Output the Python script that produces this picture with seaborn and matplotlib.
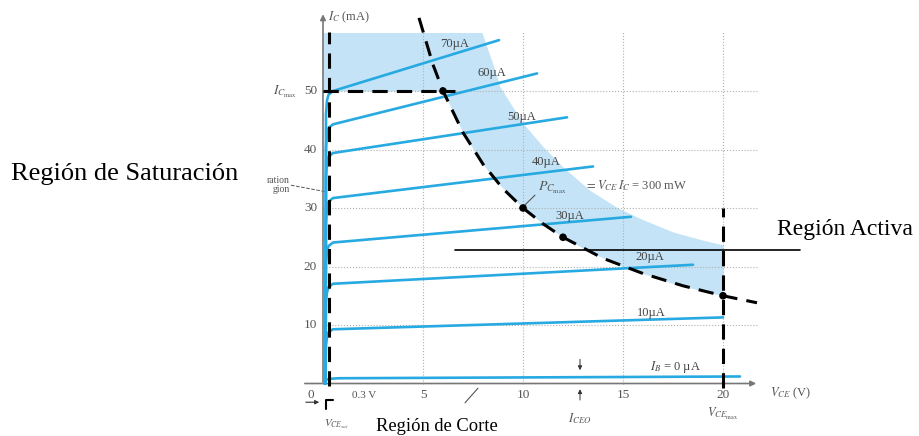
import matplotlib
matplotlib.use("Agg")
import matplotlib.pyplot as plt
from matplotlib.lines import Line2D
import pandas as pd
import seaborn as sns

# --------------------------------------
# Data
# --------------------------------------
IB_LABELS = ["70 µA", "60 µA", "50 µA", "40 µA", "30 µA", "20 µA", "10 µA", "0 µA"]

# points of each I_B curve: knee + end of the straight part (V_CE in V, I_C in mA)
CURVE_V = [
    [0.12, 0.15, 0.20, 0.28, 0.50, 8.80],
    [0.12, 0.15, 0.20, 0.28, 0.50, 10.70],
    [0.12, 0.15, 0.20, 0.28, 0.50, 12.20],
    [0.12, 0.15, 0.20, 0.28, 0.50, 13.50],
    [0.12, 0.15, 0.20, 0.28, 0.50, 15.40],
    [0.12, 0.15, 0.20, 0.28, 0.50, 18.50],
    [0.12, 0.15, 0.20, 0.28, 0.50, 20.00],
    [0.05, 0.10, 0.15, 0.30, 0.80, 20.85],
]
CURVE_I = [
    [0, 46.0, 48.4, 49.4, 50.0, 58.7],
    [0, 40.3, 42.7, 43.7, 44.3, 53.0],
    [0, 35.4, 37.8, 38.8, 39.4, 45.5],
    [0, 27.7, 30.1, 31.1, 31.7, 37.1],
    [0, 20.6, 22.6, 23.5, 24.1, 28.5],
    [0, 14.0, 15.6, 16.5, 17.05, 20.3],
    [0, 6.5, 8.0, 8.8, 9.27, 11.3],
    [0, 0.4, 0.6, 0.8, 0.9, 1.2],
]
# label anchors (left edge, vertical centre)
LABEL_V = [5.85, 7.7, 9.2, 10.45, 11.6, 15.6, 15.7, 16.35]
LABEL_I = [58.1, 53.0, 45.6, 37.8, 28.6, 21.7, 12.1, 2.8]

# max power curve P = 300 mW
PMAX_V = [4.8, 5.5, 6, 7, 8, 9, 10, 11, 12, 14, 16, 18, 20, 21.7]
PMAX_I = [62.5, 54.5, 50, 42.9, 37.5, 33.3, 30, 27.3, 25, 21.4, 18.8, 16.7, 15, 13.8]
DOT_V = [6, 10, 12, 20]
DOT_I = [50, 30, 25, 15]

# shaded (non safe) area
SHADE_V = [0, 4.8, 6, 7, 7.95, 8.5, 8.85, 10, 11, 12, 13.35, 14.75, 16, 17.5, 19, 20]
SHADE_LO = [50, 50, 50, 42.9, 37.7, 35.3, 33.9, 30, 27.3, 25, 22.5, 20.3, 18.8, 17.1, 15.8, 15]
SHADE_HI = [60, 60, 60, 60, 60, 54.5, 50.7, 44.5, 40.5, 37.0, 33.0, 30.0, 28.0, 25.9, 24.5, 23.7]

IC_MAX = 50
VCE_MAX = 20
VCE_SAT = 0.3
X_TICKS = [5, 10, 15, 20]
Y_TICKS = [10, 20, 30, 40, 50]

BLUE = "#27a9e1"
SHADE = "#c4e3f6"
GREY = "#555555"
SERIF = ["Liberation Serif", "DejaVu Serif"]

sns.set_theme(style="white")
plt.rcParams["font.family"] = SERIF
plt.rcParams["mathtext.fontset"] = "stix"

fig = plt.figure(figsize=(9.2, 4.36), dpi=100)
ax = fig.add_axes([0.31196, 0.06674, 0.52826, 0.91239])
ax.set_xlim(-1.8, 22.5)
ax.set_ylim(-4, 64)
ax.axis("off")

# shaded region
ax.fill_between(SHADE_V, SHADE_LO, SHADE_HI, color=SHADE, lw=0, zorder=0)

# grid
for v in X_TICKS:
    ax.plot([v, v], [0, 60], ls=":", lw=0.8, color="#b0b0b0", zorder=1)
for i in Y_TICKS:
    ax.plot([0, 21.7], [i, i], ls=":", lw=0.8, color="#b0b0b0", zorder=1)

# axes with arrows
ax.annotate("", xy=(21.8, 0), xytext=(-1.05, 0),
            arrowprops=dict(arrowstyle="-|>", color="#777777", lw=1.2, mutation_scale=8))
ax.annotate("", xy=(0, 63.6), xytext=(0, -0.2),
            arrowprops=dict(arrowstyle="-|>", color="#777777", lw=1.2, mutation_scale=8))

# characteristic curves
for lab, vs, ics in zip(IB_LABELS, CURVE_V, CURVE_I):
    df = pd.DataFrame({"vce": vs, "ic": ics})
    sns.lineplot(data=df, x="vce", y="ic", ax=ax, color=BLUE, lw=1.9,
                 sort=False, estimator=None, zorder=3)

for lab, lv, li in zip(IB_LABELS, LABEL_V, LABEL_I):
    txt = r"$I_B$ = " + lab if lab == "0 µA" else lab.replace(" ", "")
    ax.text(lv, li, txt, ha="left", va="center", fontsize=9, color="#444444")

# dashed limits
dash = dict(color="black", lw=2.2, dashes=(5, 3), zorder=4)
sns.lineplot(x=PMAX_V, y=PMAX_I, ax=ax, sort=False, estimator=None, **dash)
ax.plot([0, 6.6], [IC_MAX, IC_MAX], **dash)
ax.plot([VCE_MAX, VCE_MAX], [-0.8, 30], **dash)
ax.plot([VCE_SAT, VCE_SAT], [-0.5, 60], **dash)
sns.scatterplot(x=DOT_V, y=DOT_I, ax=ax, color="black", s=30, zorder=5, edgecolor="none")

# tick labels
for v in X_TICKS:
    ax.text(v, -1.9, str(v), ha="center", va="center", fontsize=9.5, color=GREY)
ax.text(-0.6, -1.9, "0", ha="center", va="center", fontsize=9.5, color=GREY)
for i in Y_TICKS:
    ax.text(-0.3, i, str(i), ha="right", va="center", fontsize=9.5, color=GREY)

# axis texts
ax.text(0.25, 62.6, r"$I_C$ (mA)", ha="left", va="center", fontsize=9, color=GREY)
ax.text(22.35, -1.6, r"$V_{CE}$ (V)", ha="left", va="center", fontsize=9, color=GREY)
ax.text(-1.3, 49.8, r"$I_{C_{\max}}$", ha="right", va="center", fontsize=9.5, color=GREY)
ax.text(20, -5.2, r"$V_{CE_{\max}}$", ha="center", va="center", fontsize=9, color=GREY)
ax.text(12.85, -6.0, r"$I_{CEO}$", ha="center", va="center", fontsize=9, color=GREY)
ax.text(0.7, -6.9, r"$V_{CE_{sat}}$", ha="center", va="center", fontsize=8, color=GREY)
ax.text(1.45, -2.0, "0.3 V", ha="left", va="center", fontsize=8, color=GREY)
ax.text(10.75, 33.5, r"$P_{C_{\max}}$", ha="left", va="center", fontsize=10, color=GREY)
ax.text(13.1, 33.8, r"$= V_{CE}\,I_C$ = 300 mW", ha="left", va="center", fontsize=9, color=GREY)
ax.plot([10.6, 10.0], [32.2, 30.2], color=GREY, lw=0.8)
ax.text(-1.65, 34.0, "ration\ngion", ha="right", va="center", fontsize=7,
        color=GREY, linespacing=1.0)
ax.plot([-1.6, 0.1], [33.9, 32.8], color=GREY, lw=0.7, ls="--")

# I_CEO arrows and cutoff pointer
ax.annotate("", xy=(12.85, 1.8), xytext=(12.85, 4.6),
            arrowprops=dict(arrowstyle="-|>", color="#333333", lw=0.7, mutation_scale=6))
ax.annotate("", xy=(12.85, -0.5), xytext=(12.85, -3.3),
            arrowprops=dict(arrowstyle="-|>", color="#333333", lw=0.7, mutation_scale=6))
ax.plot([7.1, 7.75], [-3.3, -0.8], color=GREY, lw=0.8)
ax.annotate("", xy=(-0.05, -3.2), xytext=(-1.0, -3.2),
            arrowprops=dict(arrowstyle="-|>", color="#333333", lw=0.8, mutation_scale=6))
ax.plot([0.15, 0.15, 0.5], [-4.4, -2.8, -2.8], color="black", lw=1.5, clip_on=False)

# Spanish annotations
fig.text(125 / 920, 1 - 174 / 436, "Región de Saturación", ha="center", va="center",
         fontsize=19, color="black", family=SERIF)
fig.text(777 / 920, 1 - 230 / 436, "Región Activa", ha="left", va="center",
         fontsize=17, color="black", family=SERIF)
fig.text(437 / 920, 1 - 426 / 436, "Región de Corte", ha="center", va="center",
         fontsize=13.3, color="black", family=SERIF)
fig.add_artist(Line2D([455 / 920, 800 / 920], [1 - 250 / 436] * 2, color="black", lw=1.2))

fig.savefig("out.png", dpi=100)
